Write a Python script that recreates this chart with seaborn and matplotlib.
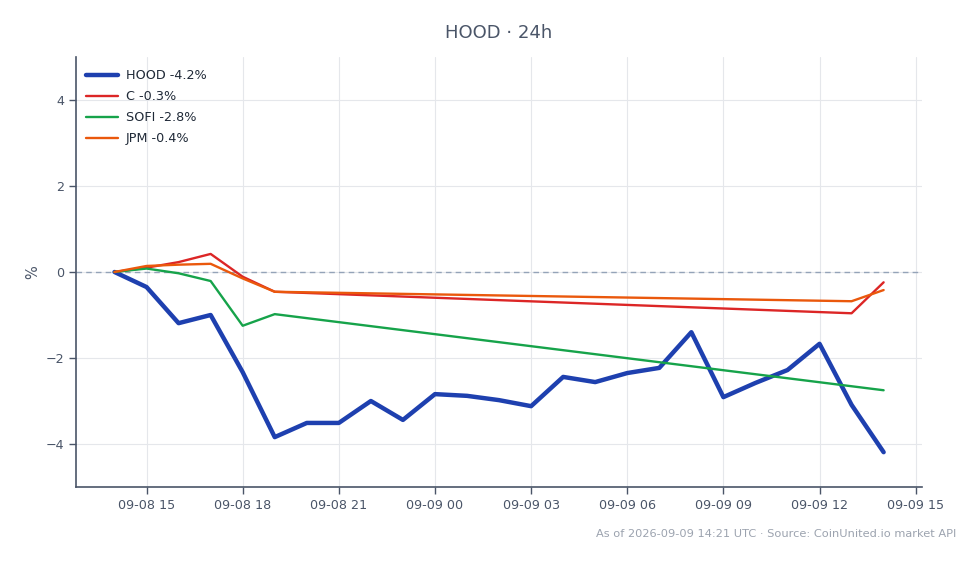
import matplotlib
matplotlib.use("Agg")
import matplotlib.pyplot as plt
import matplotlib.dates as mdates
import seaborn as sns
import pandas as pd

# Data: % change over the last 24h, hourly
hood_times = pd.date_range("2026-09-08 14:00", "2026-09-09 14:00", freq="h")
hood_vals = [0.0, -0.35, -1.19, -1.0, -2.33, -3.84, -3.51, -3.51, -3.0, -3.44,
             -2.84, -2.88, -2.98, -3.12, -2.44, -2.56, -2.35, -2.23, -1.40, -2.91,
             -2.58, -2.28, -1.67, -3.09, -4.19]

peer_times = pd.to_datetime(["2026-09-08 14:00", "2026-09-08 15:00", "2026-09-08 16:00",
                             "2026-09-08 17:00", "2026-09-08 18:00", "2026-09-08 19:00",
                             "2026-09-09 13:00", "2026-09-09 14:00"])
c_vals = [0.0, 0.10, 0.23, 0.42, -0.11, -0.46, -0.96, -0.24]
jpm_vals = [0.0, 0.14, 0.17, 0.19, -0.15, -0.46, -0.68, -0.42]

sofi_times = pd.to_datetime(["2026-09-08 14:00", "2026-09-08 15:00", "2026-09-08 16:00",
                             "2026-09-08 17:00", "2026-09-08 18:00", "2026-09-08 19:00",
                             "2026-09-09 14:00"])
sofi_vals = [0.0, 0.08, -0.03, -0.21, -1.25, -0.98, -2.75]

series = [
    ("HOOD -4.2%", hood_times, hood_vals, "#1e40af", 3.2),
    ("C -0.3%", peer_times, c_vals, "#dc2626", 1.7),
    ("SOFI -2.8%", sofi_times, sofi_vals, "#16a34a", 1.7),
    ("JPM -0.4%", peer_times, jpm_vals, "#ea580c", 1.7),
]

sns.set_style("white")
plt.rcParams['font.family'] = ['DejaVu Sans']
text_col = "#4a5568"

fig = plt.figure(figsize=(9.8, 5.64), dpi=100)
ax = fig.add_axes([0.0776, 0.1365, 0.8633, 0.7625])

for label, t, v, col, lw in series:
    df = pd.DataFrame({"time": t, "pct": v})
    sns.lineplot(data=df, x="time", y="pct", ax=ax, color=col, linewidth=lw, label=label)

ax.axhline(0, color="#94a3b8", linestyle=(0, (4, 3)), linewidth=1.0, zorder=1.5)

ax.set_ylim(-5, 5)
ax.set_yticks([-4, -2, 0, 2, 4])
ax.xaxis.set_major_locator(mdates.HourLocator(byhour=[0, 3, 6, 9, 12, 15, 18, 21]))
ax.xaxis.set_major_formatter(mdates.DateFormatter("%m-%d %H"))

ax.grid(True, color="#e5e7eb", linewidth=0.8)
ax.set_axisbelow(True)
for s in ["top", "right"]:
    ax.spines[s].set_visible(False)
for s in ["left", "bottom"]:
    ax.spines[s].set_color(text_col)
    ax.spines[s].set_linewidth(1.2)
ax.tick_params(axis="both", colors=text_col, labelsize=9.2, length=5, width=1,
               labelcolor=text_col, direction="out", bottom=True, left=True)

ax.set_xlabel("")
ax.set_ylabel("%", color=text_col, fontsize=10.5)
ax.set_title("HOOD · 24h", color=text_col, fontsize=13, pad=14)

leg = ax.legend(loc="upper left", bbox_to_anchor=(0.0, 0.995), frameon=False,
                fontsize=9.2, handlelength=2.5, handletextpad=0.6,
                borderaxespad=0.4, labelspacing=0.62)
for txt in leg.get_texts():
    txt.set_color("#1f2937")

fig.text(0.976, 0.045, "As of 2026-09-09 14:21 UTC · Source: CoinUnited.io market API",
         ha="right", va="bottom", fontsize=8.2, color="#9ca3af")

fig.savefig("out.png", dpi=100)
